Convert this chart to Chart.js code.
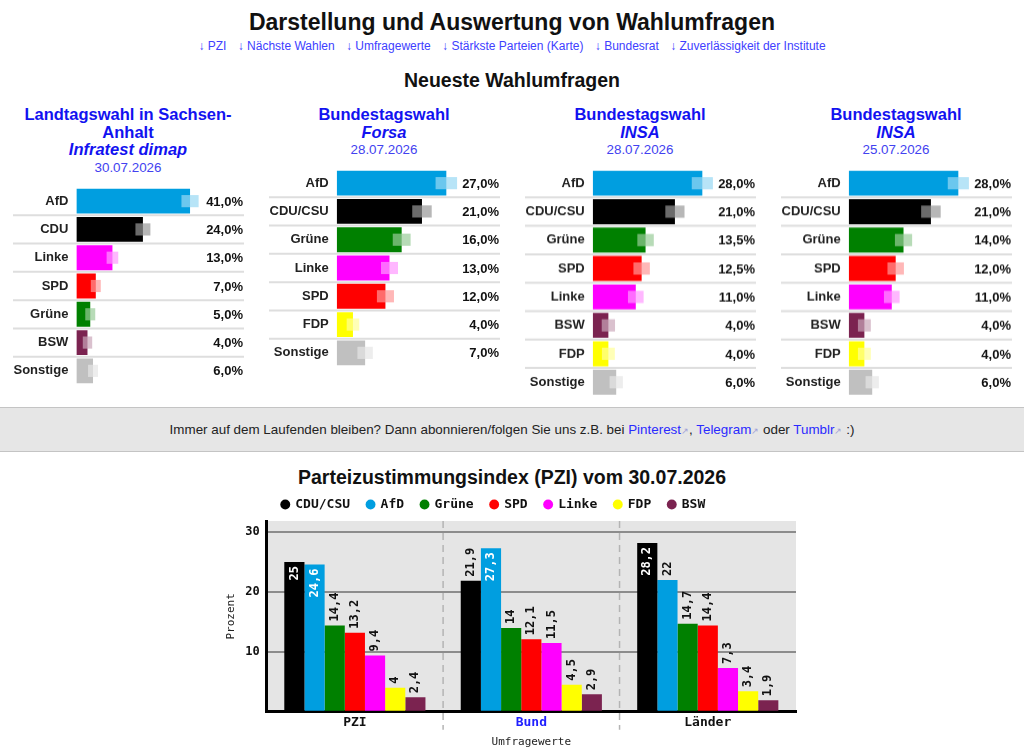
<!DOCTYPE html>
<html lang="de">
<head>
<meta charset="utf-8">
<title>Darstellung und Auswertung von Wahlumfragen</title>
<script src="https://cdn.jsdelivr.net/npm/chart.js@4.4.1/dist/chart.umd.min.js"></script>
<style>
  html, body { margin: 0; padding: 0; }
  body { width: 1024px; height: 752px; overflow: hidden; position: relative; background: #fff; color: #111;
         font-family: "Liberation Sans", Arial, sans-serif; }
  .zeile { position: absolute; left: 0; width: 1024px; text-align: center; }
  #titel { top: 8px; font-size: 23px; line-height: 28px; font-weight: bold; }
  #nav { top: 38px; font-size: 12px; line-height: 16px; }
  #nav a { color: #4040ff; text-decoration: none; margin: 0 4px; }
  #neueste { top: 68px; font-size: 19.5px; line-height: 24px; font-weight: bold; }
  .spalte { position: absolute; top: 106px; width: 231px; }
  .kopf { text-align: center; color: #1212f0; }
  .kopf .wahl { font-size: 16.5px; line-height: 17.5px; font-weight: bold; }
  .kopf .inst { font-size: 16.5px; line-height: 17.5px; font-weight: bold; font-style: italic; }
  .kopf .datum { font-size: 13.4px; line-height: 18px; color: #4242f0; }
  .tabelle { position: relative; margin-top: 10.4px; width: 231px; }
  #band { top: 407px; height: 43px; line-height: 43px; background: #e6e6e6;
          border-top: 1px solid #c4c4c4; border-bottom: 1px solid #c4c4c4; font-size: 13.4px; color: #222; }
  #band a { color: #2a2aff; text-decoration: none; }
  #band .ext { color: #a0a0d8; font-size: 9px; }
  #pziTitel { top: 465px; font-size: 19.5px; line-height: 24px; font-weight: bold; }
  #pziBox { position: absolute; left: 191px; top: 480.5px; width: 610px; height: 269.5px; }
</style>
</head>
<body>
<div id="titel" class="zeile">Darstellung und Auswertung von Wahlumfragen</div>
<div id="nav" class="zeile">
  <a href="#">↓ PZI</a> <a href="#">↓ Nächste Wahlen</a> <a href="#">↓ Umfragewerte</a>
  <a href="#">↓ Stärkste Parteien (Karte)</a> <a href="#">↓ Bundesrat</a> <a href="#">↓ Zuverlässigkeit der Institute</a>
</div>
<div id="neueste" class="zeile">Neueste Wahlumfragen</div>

<div class="spalte" style="left:12.5px">
  <div class="kopf">
    <div class="wahl">Landtagswahl in Sachsen-Anhalt</div>
    <div class="inst">Infratest dimap</div>
    <div class="datum">30.07.2026</div>
  </div>
  <div class="tabelle" style="height:198px"><canvas id="umfrage1"></canvas></div>
</div>
<div class="spalte" style="left:268.5px">
  <div class="kopf">
    <div class="wahl">Bundestagswahl</div>
    <div class="inst">Forsa</div>
    <div class="datum">28.07.2026</div>
  </div>
  <div class="tabelle" style="height:198px"><canvas id="umfrage2"></canvas></div>
</div>
<div class="spalte" style="left:524.5px">
  <div class="kopf">
    <div class="wahl">Bundestagswahl</div>
    <div class="inst">INSA</div>
    <div class="datum">28.07.2026</div>
  </div>
  <div class="tabelle" style="height:226.4px"><canvas id="umfrage3"></canvas></div>
</div>
<div class="spalte" style="left:780.5px">
  <div class="kopf">
    <div class="wahl">Bundestagswahl</div>
    <div class="inst">INSA</div>
    <div class="datum">25.07.2026</div>
  </div>
  <div class="tabelle" style="height:226.4px"><canvas id="umfrage4"></canvas></div>
</div>

<div id="band" class="zeile">Immer auf dem Laufenden bleiben? Dann abonnieren/folgen Sie uns z.B. bei <a href="#">Pinterest</a><span class="ext">↗</span>, <a href="#">Telegram</a><span class="ext">↗</span> oder <a href="#">Tumblr</a><span class="ext">↗</span> :)</div>

<div id="pziTitel" class="zeile">Parteizustimmungsindex (PZI) vom 30.07.2026</div>
<div id="pziBox"><canvas id="pziCanvas"></canvas></div>

<script>
// Umfragen (Werte in Prozent, Fehler = halbe Breite des hellen Kastens)
const sachsenAnhaltParteien = ['AfD', 'CDU', 'Linke', 'SPD', 'Grüne', 'BSW', 'Sonstige'];
const sachsenAnhaltWerte = [41, 24, 13, 7, 5, 4, 6];
const sachsenAnhaltFehler = [3.1, 2.7, 2.1, 1.8, 1.8, 1.7, 1.8];

const forsaParteien = ['AfD', 'CDU/CSU', 'Grüne', 'Linke', 'SPD', 'FDP', 'Sonstige'];
const forsaWerte = [27, 21, 16, 13, 12, 4, 7];
const forsaFehler = [2.65, 2.4, 2.2, 2.1, 2.1, 1.55, 1.9];

const insa1Parteien = ['AfD', 'CDU/CSU', 'Grüne', 'SPD', 'Linke', 'BSW', 'FDP', 'Sonstige'];
const insa1Werte = [28, 21, 13.5, 12.5, 11, 4, 4, 6];
const insa1Fehler = [2.7, 2.45, 2.1, 2.1, 2.0, 1.7, 1.65, 1.7];

const insa2Parteien = ['AfD', 'CDU/CSU', 'Grüne', 'SPD', 'Linke', 'BSW', 'FDP', 'Sonstige'];
const insa2Werte = [28, 21, 14, 12, 11, 4, 4, 6];
const insa2Fehler = [2.7, 2.5, 2.2, 2.1, 2.0, 1.65, 1.65, 1.7];

// PZI
const pziGruppen = ['PZI', 'Bund', 'Länder'];
const pziParteien = ['CDU/CSU', 'AfD', 'Grüne', 'SPD', 'Linke', 'FDP', 'BSW'];
const werteCDU = [25, 21.9, 28.2];
const werteAfD = [24.6, 27.3, 22];
const werteGruene = [14.4, 14, 14.7];
const werteSPD = [13.2, 12.1, 14.4];
const werteLinke = [9.4, 11.5, 7.3];
const werteFDP = [4, 4.5, 3.4];
const werteBSW = [2.4, 2.9, 1.9];

const parteiFarben = {
    'AfD': '#009ee0', 'CDU': '#000000', 'CDU/CSU': '#000000', 'Grüne': '#008000', 'SPD': '#ff0000',
    'Linke': '#ff00ff', 'FDP': '#ffff00', 'BSW': '#7b2350', 'Sonstige': '#c0c0c0'
};

function aufgehellt(hex) {
    const r = parseInt(hex.substr(1, 2), 16), g = parseInt(hex.substr(3, 2), 16), b = parseInt(hex.substr(5, 2), 16);
    const t = c => Math.round(c * 0.4 + 255 * 0.6);
    return `rgba(${t(r)}, ${t(g)}, ${t(b)}, 0.7)`;
}

const trennlinien = {
    id: 'trennlinien',
    beforeDatasetsDraw(chart) {
        const ctx = chart.ctx;
        const y = chart.scales.y;
        ctx.save();
        ctx.strokeStyle = '#dedede';
        ctx.lineWidth = 2;
        for (let i = 1; i < chart.data.labels.length; i++) {
            const py = (y.getPixelForValue(i - 1) + y.getPixelForValue(i)) / 2;
            ctx.beginPath();
            ctx.moveTo(0, py);
            ctx.lineTo(chart.width, py);
            ctx.stroke();
        }
        ctx.restore();
    }
};

const prozentWerte = {
    id: 'prozentWerte',
    afterDatasetsDraw(chart) {
        const ctx = chart.ctx;
        const y = chart.scales.y;
        ctx.save();
        ctx.font = 'bold 13px "Liberation Sans", Arial';
        ctx.fillStyle = '#111';
        ctx.textAlign = 'right';
        ctx.textBaseline = 'middle';
        chart.data.datasets[1].data.forEach((v, i) => {
            ctx.fillText(v.toFixed(1).replace('.', ',') + '%', chart.width - 1, y.getPixelForValue(i) + 1);
        });
        ctx.restore();
    }
};

function umfrageTabelle(canvasId, parteien, werte, fehler) {
    const farben = parteien.map(p => parteiFarben[p]);
    return new Chart(document.getElementById(canvasId), {
        type: 'bar',
        data: {
            labels: parteien,
            datasets: [
                {
                    data: werte.map((v, i) => [v - fehler[i], v + fehler[i]]),
                    backgroundColor: farben.map(aufgehellt),
                    barPercentage: 0.43, categoryPercentage: 1, grouped: false, clip: false,
                    borderWidth: 0, borderSkipped: false
                },
                {
                    data: werte,
                    backgroundColor: farben,
                    barPercentage: 0.88, categoryPercentage: 1, grouped: false, borderWidth: 0
                }
            ]
        },
        options: {
            indexAxis: 'y',
            responsive: true,
            maintainAspectRatio: false,
            animation: false,
            layout: { padding: { left: -7.5, right: 46, top: 0, bottom: 0 } },
            plugins: { legend: { display: false }, tooltip: { enabled: false } },
            scales: {
                x: { display: false, min: 0, max: Math.max(...werte) * 1.07 },
                y: {
                    grid: { display: false, drawTicks: false },
                    border: { display: false },
                    ticks: { color: '#222', padding: 8, font: { family: '"Liberation Sans", Arial', size: 13, weight: 'bold' } },
                    afterFit(axis) {
                        axis.paddingTop = 0;
                        axis.paddingBottom = 0;
                    }
                }
            }
        },
        plugins: [trennlinien, prozentWerte]
    });
}

umfrageTabelle('umfrage1', sachsenAnhaltParteien, sachsenAnhaltWerte, sachsenAnhaltFehler);
umfrageTabelle('umfrage2', forsaParteien, forsaWerte, forsaFehler);
umfrageTabelle('umfrage3', insa1Parteien, insa1Werte, insa1Fehler);
umfrageTabelle('umfrage4', insa2Parteien, insa2Werte, insa2Fehler);

// PZI-Grafik
const pziWerte = [werteCDU, werteAfD, werteGruene, werteSPD, werteLinke, werteFDP, werteBSW];
const pziFarben = pziParteien.map(p => parteiFarben[p]);
const mono = '"DejaVu Sans Mono", monospace';

const plotHintergrund = {
    id: 'plotHintergrund',
    beforeDraw(chart) {
        const { ctx, chartArea: a } = chart;
        const x = chart.scales.x;
        ctx.save();
        ctx.fillStyle = '#e5e5e5';
        ctx.fillRect(a.left, a.top, a.right - a.left, a.bottom - a.top);
        ctx.strokeStyle = '#b4b4b4';
        ctx.lineWidth = 1.5;
        ctx.setLineDash([7, 5]);
        for (let i = 1; i < chart.data.labels.length; i++) {
            const px = (x.getPixelForTick(i - 1) + x.getPixelForTick(i)) / 2;
            ctx.beginPath();
            ctx.moveTo(px, a.top);
            ctx.lineTo(px, a.bottom + 18);
            ctx.stroke();
        }
        ctx.restore();
    }
};

const saeulenWerte = {
    id: 'saeulenWerte',
    afterDatasetsDraw(chart) {
        const ctx = chart.ctx;
        ctx.save();
        ctx.font = 'bold 12px ' + mono;
        ctx.textBaseline = 'middle';
        chart.data.datasets.forEach((ds, i) => {
            chart.getDatasetMeta(i).data.forEach((bar, j) => {
                const v = ds.data[j];
                const text = String(v).replace('.', ',');
                ctx.save();
                ctx.translate(bar.x, bar.y);
                ctx.rotate(-Math.PI / 2);
                if (v > 24) {
                    ctx.fillStyle = '#fff';
                    ctx.textAlign = 'right';
                    ctx.fillText(text, -4, 0);
                } else {
                    ctx.fillStyle = '#111';
                    ctx.textAlign = 'left';
                    ctx.fillText(text, 4, 0);
                }
                ctx.restore();
            });
        });
        ctx.restore();
    }
};

new Chart(document.getElementById('pziCanvas'), {
    type: 'bar',
    data: {
        labels: pziGruppen,
        datasets: pziParteien.map((p, i) => ({
            label: p,
            data: pziWerte[i],
            backgroundColor: pziFarben[i],
            borderWidth: 0,
            categoryPercentage: 0.8,
            barPercentage: 1
        }))
    },
    options: {
        responsive: true,
        maintainAspectRatio: false,
        animation: false,
        layout: { padding: { left: 0, right: 5, top: 0, bottom: 0 } },
        plugins: {
            tooltip: { enabled: false },
            legend: {
                labels: {
                    usePointStyle: true, pointStyle: 'circle', boxWidth: 7, boxHeight: 7, padding: 17,
                    color: '#111', font: { family: mono, size: 13, weight: 'bold' }
                }
            }
        },
        scales: {
            x: {
                grid: { display: false, drawTicks: false },
                border: { color: '#000', width: 3 },
                ticks: {
                    padding: 3,
                    color: ctx => ctx.index === 1 ? '#2020ff' : '#111',
                    font: { family: mono, size: 13, weight: 'bold' }
                },
                title: {
                    display: true, text: 'Umfragewerte', color: '#222', padding: { top: 2, bottom: 2 },
                    font: { family: mono, size: 11 }
                }
            },
            y: {
                min: 0,
                max: Math.max(...pziWerte.flat()) * 1.13,
                grid: { color: '#8c8c8c', lineWidth: 2, drawTicks: false },
                border: { color: '#000', width: 3 },
                ticks: {
                    stepSize: 10, includeBounds: false, padding: 7, color: '#111',
                    font: { family: mono, size: 12, weight: 'bold' },
                    callback: v => v === 0 ? '' : v
                },
                title: {
                    display: true, text: 'Prozent', color: '#222', padding: { top: 34, bottom: 0 },
                    font: { family: mono, size: 11 }
                }
            }
        }
    },
    plugins: [plotHintergrund, saeulenWerte]
});
</script>
</body>
</html>
